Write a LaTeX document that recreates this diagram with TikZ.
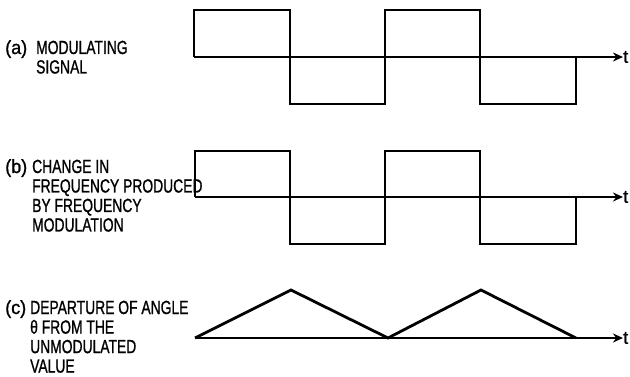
\documentclass[tikz,border=0pt]{standalone}
\usepackage{fontspec}
\setmainfont{Liberation Sans}
\newfontfamily\lettering{Liberation Sans}[FakeBold=1.2]
\usepackage{graphicx}
\usetikzlibrary{arrows.meta}

\newcommand{\txtlines}[1]{\scalebox{0.73}[1]{\begin{tabular}[t]{@{}l@{}}#1\end{tabular}}}
\tikzset{
    wave/.style={line width=2.8pt, line join=miter},
    axis/.style={line width=1.8pt, -{Stealth[length=10pt,width=9pt]}},
    lbl/.style={anchor=base west, inner sep=0pt, font=\lettering\fontsize{19}{19.5}\selectfont},
    tlbl/.style={anchor=west, inner sep=0pt, font=\lettering\fontsize{18}{20}\selectfont}
}

\begin{document}
\begin{tikzpicture}[x=1pt,y=-1pt]
    \useasboundingbox (0,0) rectangle (630,377);

    % (a) modulating signal
    \node[lbl] (la) at (5,54) {\scalebox{0.95}[1]{(a)}};
    \node[lbl] (ta) at (36,54) {\txtlines{MODULATING\\ SIGNAL}};
    \coordinate (a0) at (194,57);
    \node[tlbl] (ea) at (623,57) {t};
    \draw[axis] (a0) -- (ea.west);
    \draw[wave] (194,57) -- (194,10) -- (290,10) -- (290,104) -- (385,104)
        -- (385,10) -- (480,10) -- (480,104) -- (576,104) -- (576,57);

    % (b) change in frequency
    \node[lbl] (lb) at (5,173) {\scalebox{0.95}[1]{(b)}};
    \node[lbl] (tb) at (32,173) {\txtlines{CHANGE IN\\ FREQUENCY PRODUCED\\ BY FREQUENCY\\ MODULATION}};
    \coordinate (b0) at (195,197);
    \node[tlbl] (eb) at (623,197) {t};
    \draw[axis] (b0) -- (eb.west);
    \draw[wave] (195,197) -- (195,151) -- (290,151) -- (290,244) -- (385,244)
        -- (385,151) -- (480,151) -- (480,244) -- (576,244) -- (576,197);

    % (c) departure of angle
    \node[lbl] (lc) at (5,314) {\scalebox{0.95}[1]{(c)}};
    \node[lbl] (tc) at (30,314) {\txtlines{DEPARTURE OF ANGLE\\ θ FROM THE\\ UNMODULATED\\ VALUE}};
    \coordinate (c0) at (195,338);
    \node[tlbl] (ec) at (623,338) {t};
    \draw[axis] (c0) -- (ec.west);
    \draw[wave] (195,338) -- (291,290) -- (388,338) -- (481,290) -- (576,338);
\end{tikzpicture}
\end{document}
